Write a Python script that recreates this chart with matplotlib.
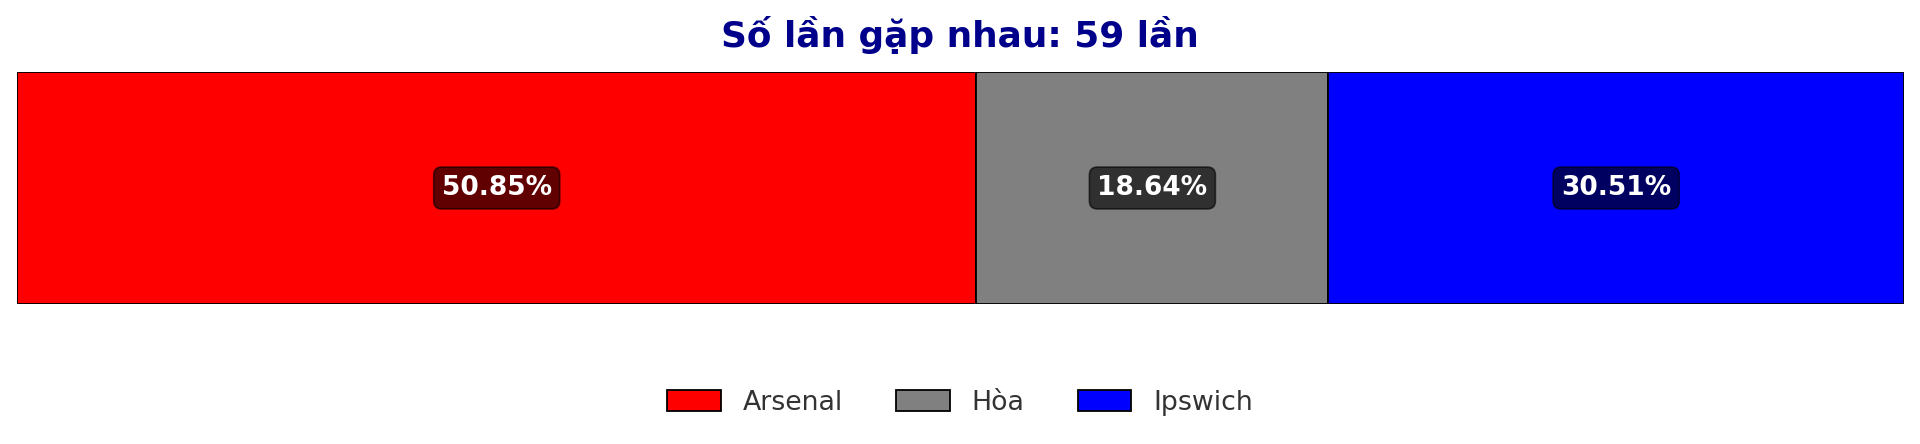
import matplotlib

matplotlib.use("Agg")
import matplotlib.pyplot as plt
import numpy as np

# head-to-head record
teams = ["Arsenal", "Hòa", "Ipswich"]
counts = [30, 11, 18]
colors = ["red", "grey", "blue"]
title = "Số lần gặp nhau: 59 lần"

total = sum(counts)
pct = np.array(counts) / total * 100
lefts = np.concatenate([[0], np.cumsum(pct)[:-1]])

fig = plt.figure(figsize=(19.2, 4.44), dpi=100)
ax = fig.add_axes([17 / 1920, 140 / 444, 1887 / 1920, 232 / 444])

for name, w, left, c in zip(teams, pct, lefts, colors):
    ax.barh(0, w, left=left, height=1.0, color=c, edgecolor="black", linewidth=1.3, label=name)
    ax.text(left + w / 2, 0, f"{w:.2f}%", ha="center", va="center", color="white",
            fontsize=19, fontweight="bold",
            bbox=dict(boxstyle="round,pad=0.3", facecolor="black", edgecolor="black",
                      alpha=0.62, linewidth=1.2))

ax.set_xlim(0, 100)
ax.set_ylim(-0.5, 0.5)
ax.axis("off")

fig.text(0.5, 1 - 35 / 444, title, ha="center", va="center", fontsize=25.8,
         fontweight="bold", color="#00008B")

fig.legend(loc="center", bbox_to_anchor=(0.5, 1 - 403 / 444), ncol=3, frameon=False,
           fontsize=19.3, labelcolor="0.2", handlelength=2.0, handleheight=0.8,
           columnspacing=2.0, handletextpad=0.8)

fig.savefig("out.png", dpi=100)
